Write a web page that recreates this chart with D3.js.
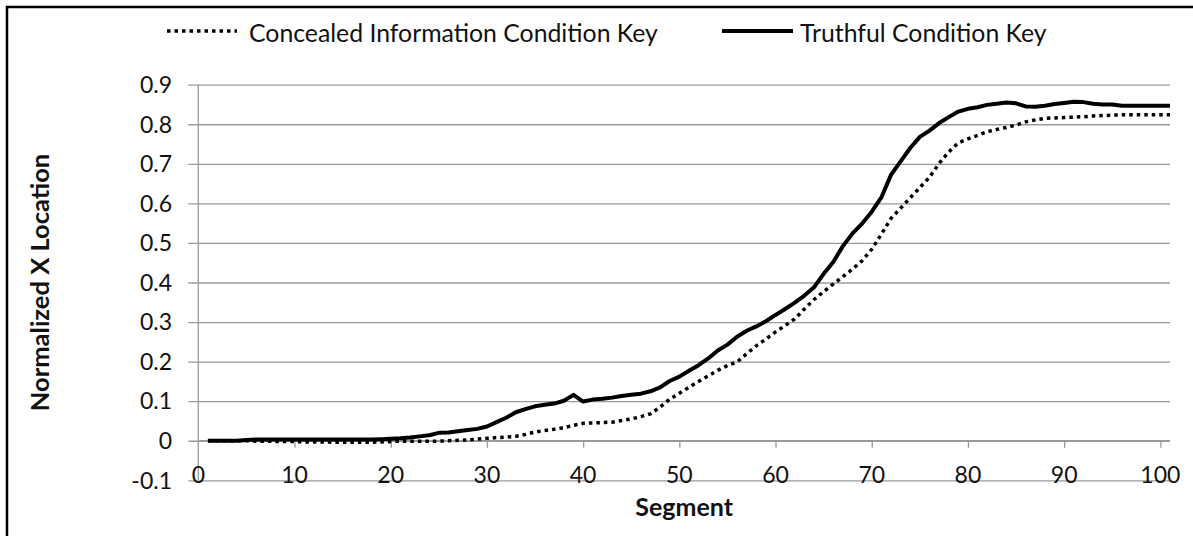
<!DOCTYPE html>
<html>
<head>
<meta charset="utf-8">
<script src="https://cdn.jsdelivr.net/npm/d3@7"></script>
<style>
  body { margin: 0; background: #fff; }
  text { font-family: Lato, "Open Sans", sans-serif; fill: #111; }
</style>
</head>
<body>
<script>
// Width and height
const w = 1193;
const h = 536;

// Segment numbers 1..101
const segments = d3.range(1, 102);

// Truthful condition key, one value per segment
const truthful = [
  0.000, 0.000, 0.000, 0.000, 0.002, 0.003, 0.003, 0.003, 0.003, 0.003,
  0.003, 0.003, 0.003, 0.003, 0.003, 0.003, 0.003, 0.003, 0.004, 0.005,
  0.006, 0.008, 0.011, 0.014, 0.020, 0.021, 0.024, 0.027, 0.030, 0.036,
  0.047, 0.058, 0.072, 0.080, 0.087, 0.091, 0.094, 0.101, 0.116, 0.099,
  0.104, 0.106, 0.109, 0.113, 0.116, 0.119, 0.125, 0.135, 0.151, 0.162,
  0.177, 0.191, 0.208, 0.228, 0.243, 0.263, 0.278, 0.289, 0.302, 0.318,
  0.333, 0.349, 0.367, 0.388, 0.422, 0.452, 0.492, 0.524, 0.549, 0.579,
  0.615, 0.672, 0.706, 0.740, 0.768, 0.784, 0.803, 0.818, 0.832, 0.839,
  0.843, 0.849, 0.852, 0.855, 0.853, 0.845, 0.844, 0.847, 0.851, 0.854,
  0.857, 0.856, 0.852, 0.850, 0.850, 0.847, 0.847, 0.847, 0.847, 0.847,
  0.847
];

// Concealed information condition key, one value per segment
const concealed = [
  0.000, 0.000, 0.000, 0.000, 0.000, -0.001, -0.001, -0.002, -0.002, -0.002,
  -0.003, -0.003, -0.003, -0.004, -0.004, -0.004, -0.004, -0.004, -0.003, -0.002,
  -0.001, -0.001, -0.001, -0.001, -0.001, 0.000, 0.001, 0.002, 0.004, 0.006,
  0.008, 0.009, 0.011, 0.016, 0.022, 0.026, 0.029, 0.033, 0.039, 0.044,
  0.045, 0.046, 0.047, 0.051, 0.055, 0.061, 0.068, 0.085, 0.105, 0.120,
  0.135, 0.150, 0.164, 0.178, 0.190, 0.199, 0.220, 0.240, 0.257, 0.275,
  0.291, 0.308, 0.333, 0.357, 0.377, 0.396, 0.415, 0.434, 0.455, 0.484,
  0.522, 0.562, 0.588, 0.614, 0.640, 0.666, 0.701, 0.730, 0.753, 0.763,
  0.772, 0.781, 0.787, 0.792, 0.798, 0.806, 0.811, 0.815, 0.816, 0.817,
  0.818, 0.819, 0.821, 0.822, 0.823, 0.824, 0.824, 0.824, 0.824, 0.824,
  0.824
];

// Tick values
const xTicks = [0, 10, 20, 30, 40, 50, 60, 70, 80, 90, 100];
const yTicks = [-0.1, 0, 0.1, 0.2, 0.3, 0.4, 0.5, 0.6, 0.7, 0.8, 0.9];
const yTickLabels = ["-0.1", "0", "0.1", "0.2", "0.3", "0.4", "0.5", "0.6", "0.7", "0.8", "0.9"];

const seriesNames = ["Concealed Information Condition Key", "Truthful Condition Key"];

// Plot area
const pLeft = 198.3, pRight = 1170, pTop = 84.7, pBottom = 480.3;

const x = d3.scaleLinear().domain([0, 101]).range([pLeft, pRight]);
const y = d3.scaleLinear().domain([-0.1, 0.9]).range([pBottom, pTop]);

const svg = d3.select("body")
  .append("svg")
  .attr("width", w)
  .attr("height", h);

// outer frame (right and bottom sides fall outside the picture)
svg.append("rect")
  .attr("x", 7).attr("y", 7)
  .attr("width", w + 10).attr("height", h + 10)
  .attr("fill", "none")
  .attr("stroke", "#000")
  .attr("stroke-width", 2.5);

// horizontal gridlines with their left tick marks
svg.append("g")
  .attr("transform", "translate(" + (pLeft - 10) + ",0)")
  .call(d3.axisLeft(y).tickValues(yTicks).tickSize(-(pRight - pLeft + 10)).tickFormat(""))
  .call(g => g.select(".domain").remove())
  .call(g => g.selectAll("line").attr("stroke", "#9a9a9a").attr("stroke-width", 1.3));

// y tick labels
svg.append("g")
  .selectAll("text")
  .data(yTicks)
  .enter()
  .append("text")
  .attr("x", 172)
  .attr("y", d => y(d))
  .attr("dy", "0.36em")
  .attr("text-anchor", "end")
  .style("font-size", "23px")
  .text((d, i) => yTickLabels[i]);

// vertical axis
svg.append("line")
  .attr("x1", pLeft).attr("x2", pLeft)
  .attr("y1", pTop).attr("y2", pBottom)
  .attr("stroke", "#9a9a9a").attr("stroke-width", 1.3);

// horizontal axis at zero with ticks below
svg.append("g")
  .attr("transform", "translate(0," + y(0) + ")")
  .call(d3.axisBottom(x).tickValues(xTicks.slice(1)).tickSize(7).tickSizeOuter(0).tickFormat(""))
  .call(g => g.select(".domain").attr("d", "M" + pLeft + ",0H" + pRight).attr("stroke", "#9a9a9a").attr("stroke-width", 1.3))
  .call(g => g.selectAll(".tick line").attr("stroke", "#9a9a9a").attr("stroke-width", 1.3));

// x tick labels sit at the bottom of the plot
svg.append("g")
  .selectAll("text")
  .data(xTicks)
  .enter()
  .append("text")
  .attr("x", d => x(d))
  .attr("y", 483)
  .attr("text-anchor", "middle")
  .style("font-size", "23px")
  .text(d => d);

// lines
const line = d3.line()
  .x((d, i) => x(segments[i]))
  .y(d => y(d));

svg.append("path")
  .datum(concealed)
  .attr("d", line)
  .attr("fill", "none")
  .attr("stroke", "#000")
  .attr("stroke-width", 3.5)
  .attr("stroke-dasharray", "3.5,4");

svg.append("path")
  .datum(truthful)
  .attr("d", line)
  .attr("fill", "none")
  .attr("stroke", "#000")
  .attr("stroke-width", 4)
  .attr("stroke-linejoin", "round");

// axis titles
svg.append("text")
  .attr("x", (pLeft + pRight) / 2)
  .attr("y", 516)
  .attr("text-anchor", "middle")
  .style("font-size", "25px")
  .style("font-weight", "bold")
  .text("Segment");

svg.append("text")
  .attr("transform", "translate(49," + (pTop + pBottom) / 2 + ") rotate(-90)")
  .attr("text-anchor", "middle")
  .style("font-size", "25.5px")
  .style("font-weight", "bold")
  .text("Normalized X Location");

// legend
const legend = [
  { name: seriesNames[0], x1: 167, x2: 237, dash: "3.5,4", width: 3.5 },
  { name: seriesNames[1], x1: 722, x2: 793, dash: null, width: 4 }
];

const lg = svg.append("g")
  .selectAll("g")
  .data(legend)
  .enter()
  .append("g");

lg.append("line")
  .attr("x1", d => d.x1).attr("x2", d => d.x2)
  .attr("y1", 31).attr("y2", 31)
  .attr("stroke", "#000")
  .attr("stroke-width", d => d.width)
  .attr("stroke-dasharray", d => d.dash);

lg.append("text")
  .attr("x", d => d.x2 + (d.dash ? 12 : 7))
  .attr("y", 41.5)
  .style("font-size", "24.8px")
  .text(d => d.name);
</script>
</body>
</html>
